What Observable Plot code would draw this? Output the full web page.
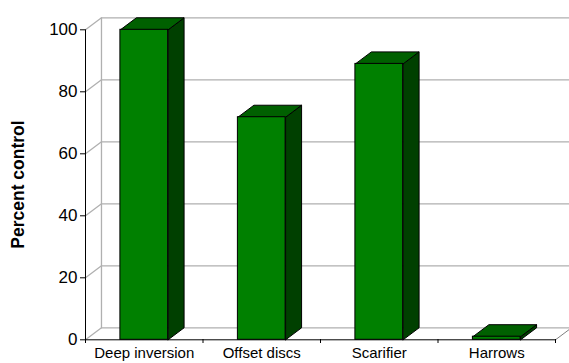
<!DOCTYPE html>
<html><head><meta charset="utf-8">
<script src="https://cdn.jsdelivr.net/npm/d3@7"></script>
<script src="https://cdn.jsdelivr.net/npm/@observablehq/plot@0.6"></script>
<style>html,body{margin:0;padding:0;background:#fff}svg{display:block}</style>
</head><body><div id="chart"></div>
<script>
const categories = ["Deep inversion", "Offset discs", "Scarifier", "Harrows"];
const values = [100, 71.8, 89, 1];
const yTicks = [0, 20, 40, 60, 80, 100];
const yLabel = "Percent control";

// 3-D look: depth of the box, in data units
const depthX = 0.136, depthY = 3.87, barHalf = 0.203;
const rows = categories.map((name, i) => ({
  name, value: values[i], x1: i + 0.5 - barHalf, x2: i + 0.5 + barHalf
}));
const poly = (corners) => corners.flatMap((c, k) => c.map(([x, y]) => ({x, y, k})));
const wallLines = poly(yTicks.map(t => [[0, t], [depthX, t + depthY], [categories.length + depthX, t + depthY]]));
const backEdge = [[depthX, depthY], [depthX, 100 + depthY]].map(([x, y]) => ({x, y}));
const floorEdge = [[categories.length, 0], [categories.length + depthX, depthY]].map(([x, y]) => ({x, y}));
const sides = poly(rows.map(r => [[r.x2, 0], [r.x2 + depthX, depthY], [r.x2 + depthX, r.value + depthY], [r.x2, r.value], [r.x2, 0]]));
const tops = poly(rows.map(r => [[r.x1, r.value], [r.x1 + depthX, r.value + depthY], [r.x2 + depthX, r.value + depthY], [r.x2, r.value], [r.x1, r.value]]));
const face = {x: "x", y: "y", z: "k", stroke: "#000", strokeWidth: 1, strokeLinejoin: "miter"};

const fig = Plot.plot({
  width: 569, height: 363,
  marginLeft: 85, marginRight: 14, marginTop: 29, marginBottom: 24,
  style: {fontFamily: "'Liberation Sans', Arial, sans-serif", color: "#000", background: "#fff"},
  x: {domain: [0, categories.length], range: [85, 555], axis: null},
  y: {domain: [0, 100], range: [339.3, 29.3], axis: null},
  marks: [
    Plot.line(wallLines, {x: "x", y: "y", z: "k", stroke: "#b0b0b0", strokeWidth: 1.3}),
    Plot.line(backEdge, {x: "x", y: "y", stroke: "#b0b0b0", strokeWidth: 1.3}),
    Plot.line(floorEdge, {x: "x", y: "y", stroke: "#808080", strokeWidth: 1}),
    Plot.line(sides, {...face, fill: "#004000"}),
    Plot.line(tops, {...face, fill: "#006000"}),
    Plot.rectY(rows, {x1: "x1", x2: "x2", y1: 0, y2: "value", fill: "#008000", stroke: "#000", strokeWidth: 1}),
    Plot.ruleX([0], {y1: 0, y2: 100, stroke: "#000", strokeWidth: 1}),
    Plot.ruleY([0], {x1: 0, x2: categories.length, stroke: "#000", strokeWidth: 1}),
    Plot.axisY({ticks: yTicks, tickSize: 5, tickPadding: 3, fontSize: 17, label: null, stroke: "#000"}),
    Plot.axisX({ticks: d3.range(categories.length + 1), tickSize: 4, tickFormat: () => "", label: null, stroke: "#000"}),
    Plot.axisX({ticks: categories.map((_, i) => i + 0.5), tickSize: 0, tickPadding: 8, fontSize: 15,
      tickFormat: d => categories[Math.floor(d)], label: null}),
    Plot.text([yLabel], {frameAnchor: "left", textAnchor: "middle", dx: -67, rotate: -90, fontWeight: "bold", fontSize: 17.5, text: d => d})
  ]
});
document.getElementById("chart").append(fig);
</script></body></html>
